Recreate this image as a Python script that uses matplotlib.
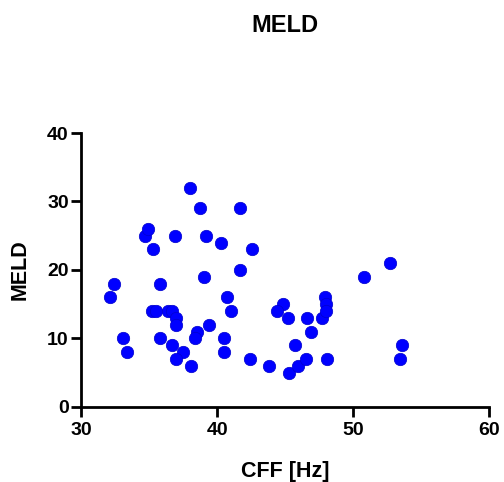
import matplotlib
matplotlib.use("Agg")
import matplotlib.pyplot as plt

plt.rcParams['font.family'] = ['Liberation Sans', 'DejaVu Sans']
plt.rcParams['font.weight'] = 'bold'

# CFF [Hz] vs MELD
cff = [32.1, 32.4, 33.05, 33.4, 34.7, 34.9, 35.3, 35.2, 35.5, 35.8,
       35.8, 36.4, 36.7, 37.0, 37.0, 36.7, 37.5, 37.0, 38.1, 36.9,
       38.0, 38.7, 39.2, 39.0, 38.55, 38.4, 39.4, 40.3, 41.7, 42.55,
       41.7, 40.7, 41.0, 40.5, 40.5, 42.4, 43.8, 45.3, 45.9, 46.5,
       48.1, 45.7, 46.9, 46.6, 45.2, 44.8, 44.4, 47.7, 47.9, 48.0,
       48.0, 52.7, 50.8, 53.6, 53.4]
meld = [16, 18, 10, 8, 25, 26, 23, 14, 14, 18,
        10, 14, 14, 13, 12, 9, 8, 7, 6, 25,
        32, 29, 25, 19, 11, 10, 12, 24, 29, 23,
        20, 16, 14, 10, 8, 7, 6, 5, 6, 7,
        7, 9, 11, 13, 13, 15, 14, 13, 16, 15,
        14, 21, 19, 9, 7]

xticks = [30, 40, 50, 60]
yticks = [0, 10, 20, 30, 40]

fig = plt.figure(figsize=(5.04, 4.82), dpi=100)
ax = fig.add_axes([0.161, 0.156, 0.810, 0.568])

ax.scatter(cff, meld, s=80, color='#0000ff', edgecolors='#0000cc',
           linewidths=0.5, zorder=3, clip_on=False)

ax.set_xlim(30, 60)
ax.set_ylim(0, 40)
ax.set_xticks(xticks)
ax.set_yticks(yticks)

for side in ['top', 'right']:
    ax.spines[side].set_visible(False)
for side in ['left', 'bottom']:
    ax.spines[side].set_linewidth(2)
ax.tick_params(direction='out', length=7, width=2, labelsize=14)
ax.tick_params(axis='x', pad=4)
ax.tick_params(axis='y', pad=2)
for lab in ax.get_xticklabels() + ax.get_yticklabels():
    lab.set_fontweight('bold')

ax.set_xlabel('CFF [Hz]', fontsize=15.5, fontweight='bold', labelpad=16)
ax.set_ylabel('MELD', fontsize=15.5, fontweight='bold', labelpad=12)
fig.text(0.566, 1 - 26 / 482, 'MELD', ha='center', va='center',
         fontsize=17, fontweight='bold')

fig.savefig('out.png', dpi=100)
